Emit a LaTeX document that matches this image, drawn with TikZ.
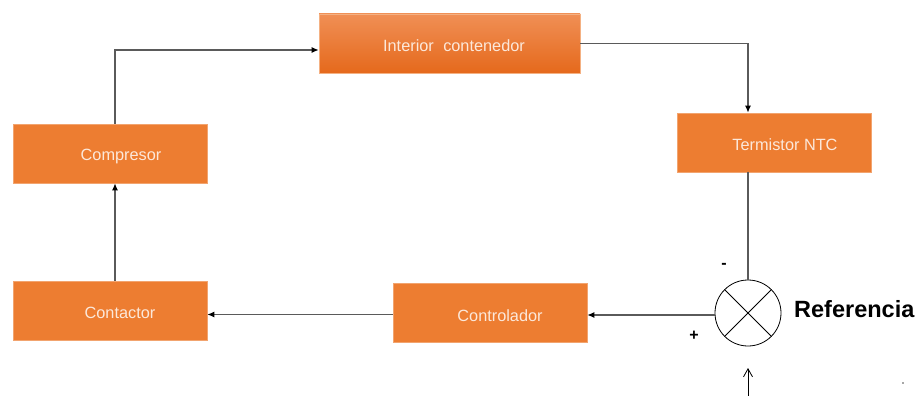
\documentclass[tikz,border=0pt]{standalone}
\usepackage{fontspec}
\setmainfont{Liberation Sans}
\usetikzlibrary{arrows.meta}
\definecolor{boxor}{HTML}{ED7D31}
\definecolor{boxtop}{HTML}{F08F55}
\definecolor{boxbot}{HTML}{E5691C}
\definecolor{boxtxt}{HTML}{FCE8DA}
\definecolor{linec}{HTML}{5A5A5A}
\tikzset{
  blk/.style={draw=boxor!70!white, line width=0.6pt, fill=boxor, minimum width=194pt, minimum height=59pt, inner sep=0pt},
  blkg/.style={draw=boxor!60!white, line width=0.6pt, top color=boxtop, bottom color=boxbot, minimum width=261pt, minimum height=59pt, inner sep=0pt},
  btxt/.style={text=boxtxt, font=\fontsize{16.3}{18}\selectfont, inner sep=0pt},
  conn/.style={draw=linec, line width=1.2pt},
  arr/.style={conn, -{Latex[length=7pt,width=6pt,black]}},
  sign/.style={font=\bfseries\fontsize{16}{18}\selectfont, inner sep=0pt}
}
\begin{document}
\begin{tikzpicture}[x=1pt,y=-1pt]
\useasboundingbox (0,0) rectangle (919,396);
\node[blkg] (interior) at (449.5,43.5) {};
\node[btxt] (interior-t) at (454,46) {Interior\hspace{0.3em} contenedor};
\node[blk] (termistor) at (774,142.5) {};
\node[btxt] (termistor-t) at (785,145) {Termistor NTC};
\node[blk] (compresor) at (110,153.5) {};
\node[btxt] (compresor-t) at (121,157) {Compresor};
\node[blk] (contactor) at (110,310.5) {};
\node[btxt] (contactor-t) at (120,313) {Contactor};
\node[blk] (controlador) at (490,312.5) {};
\node[btxt] (controlador-t) at (500,316) {Controlador};
\node[draw=black, line width=0.8pt, circle, minimum size=66pt, inner sep=0pt] (sum) at (748,313) {};
\draw[line width=0.8pt] (sum.north west) -- (sum.south east);
\draw[line width=0.8pt] (sum.north east) -- (sum.south west);
\node[sign] (minus) at (724,266) {-};
\node[sign] (plus) at (694,336) {+};
\node[font=\bfseries\fontsize{23.5}{26}\selectfont, inner sep=0pt, anchor=west] (ref) at (794,309) {Referencia};
\coordinate (refin) at (748,396);
\coordinate (refend) at (748,368);
\coordinate (dot) at (903,383);
\fill[black!70] (dot) circle (0.9pt);
% connectors
\draw[arr] ([xshift=5pt]contactor.north) -- ([xshift=5pt]compresor.south);
\draw[arr] ([xshift=5pt]compresor.north) |- ([yshift=-6.5pt]interior.west);
\draw[arr] (interior.east) -| ([xshift=-26pt]termistor.north);
\draw[conn] ([xshift=-26pt]termistor.south) -- (sum.north);
\draw[arr] ([yshift=-2pt]sum.west) -- ([yshift=-2pt]sum.west -| controlador.east);
\draw[arr] ([yshift=-2pt]controlador.west) -- ([yshift=-2pt]controlador.west -| contactor.east);
\draw[line width=0.8pt, -{Straight Barb[length=8pt,width=9pt]}] (refin) -- (refend);
\end{tikzpicture}
\end{document}
